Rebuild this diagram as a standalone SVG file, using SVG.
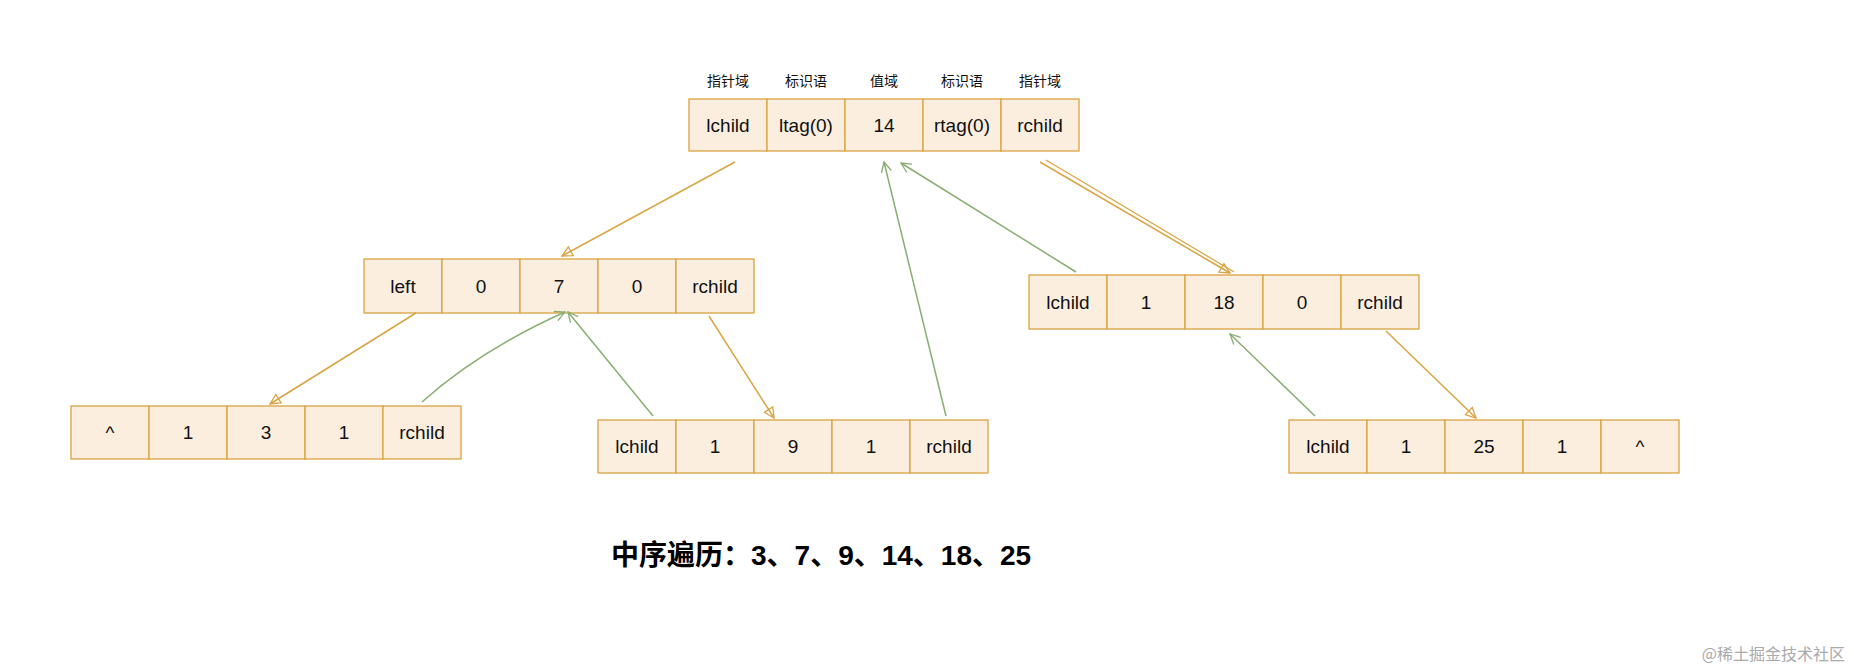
<svg xmlns="http://www.w3.org/2000/svg" width="1854" height="668" viewBox="0 0 1854 668">
<style>
.cell{fill:#fbeedf;stroke:#d9a441;stroke-width:1.3}
.t{font-family:"Liberation Sans",Arial,sans-serif;font-size:19px;fill:#111;text-anchor:middle}
.h{font-family:"Noto Sans CJK SC",sans-serif;font-size:14px;fill:#111;text-anchor:middle}
.o{stroke:#d9a441;stroke-width:1.5;fill:none;marker-end:url(#ao)}
.g{stroke:#88ae72;stroke-width:1.5;fill:none;marker-end:url(#ag)}
</style>
<defs>
<marker id="ao" viewBox="0 0 12 12" refX="11" refY="6" markerWidth="12" markerHeight="12" markerUnits="userSpaceOnUse" orient="auto"><path d="M1,1 L11,6 L1,11 Z" fill="none" stroke="#d9a441" stroke-width="1.3"/></marker>
<marker id="ag" viewBox="0 0 12 12" refX="11" refY="6" markerWidth="12" markerHeight="12" markerUnits="userSpaceOnUse" orient="auto"><path d="M1,1 L11,6 L1,11" fill="none" stroke="#88ae72" stroke-width="1.3"/></marker>
</defs>
<rect width="1854" height="668" fill="#fff"/>
<g id="headers">
<text class="h" x="728" y="86">指针域</text><text class="h" x="806" y="86">标识语</text><text class="h" x="884" y="86">值域</text><text class="h" x="962" y="86">标识语</text><text class="h" x="1040" y="86">指针域</text>
</g>
<g id="n14" transform="translate(689,99)">
<rect class="cell" x="0" y="0" width="78" height="52"/><rect class="cell" x="78" y="0" width="78" height="52"/><rect class="cell" x="156" y="0" width="78" height="52"/><rect class="cell" x="234" y="0" width="78" height="52"/><rect class="cell" x="312" y="0" width="78" height="52"/>
<text class="t" x="39" y="33">lchild</text><text class="t" x="117" y="33">ltag(0)</text><text class="t" x="195" y="33">14</text><text class="t" x="273" y="33">rtag(0)</text><text class="t" x="351" y="33">rchild</text>
</g>
<g id="n7" transform="translate(364,259)">
<rect class="cell" x="0" y="0" width="78" height="54"/><rect class="cell" x="78" y="0" width="78" height="54"/><rect class="cell" x="156" y="0" width="78" height="54"/><rect class="cell" x="234" y="0" width="78" height="54"/><rect class="cell" x="312" y="0" width="78" height="54"/>
<text class="t" x="39" y="34">left</text><text class="t" x="117" y="34">0</text><text class="t" x="195" y="34">7</text><text class="t" x="273" y="34">0</text><text class="t" x="351" y="34">rchild</text>
</g>
<g id="n18" transform="translate(1029,275)">
<rect class="cell" x="0" y="0" width="78" height="54"/><rect class="cell" x="78" y="0" width="78" height="54"/><rect class="cell" x="156" y="0" width="78" height="54"/><rect class="cell" x="234" y="0" width="78" height="54"/><rect class="cell" x="312" y="0" width="78" height="54"/>
<text class="t" x="39" y="34">lchild</text><text class="t" x="117" y="34">1</text><text class="t" x="195" y="34">18</text><text class="t" x="273" y="34">0</text><text class="t" x="351" y="34">rchild</text>
</g>
<g id="n3" transform="translate(71,406)">
<rect class="cell" x="0" y="0" width="78" height="53"/><rect class="cell" x="78" y="0" width="78" height="53"/><rect class="cell" x="156" y="0" width="78" height="53"/><rect class="cell" x="234" y="0" width="78" height="53"/><rect class="cell" x="312" y="0" width="78" height="53"/>
<text class="t" x="39" y="33">^</text><text class="t" x="117" y="33">1</text><text class="t" x="195" y="33">3</text><text class="t" x="273" y="33">1</text><text class="t" x="351" y="33">rchild</text>
</g>
<g id="n9" transform="translate(598,420)">
<rect class="cell" x="0" y="0" width="78" height="53"/><rect class="cell" x="78" y="0" width="78" height="53"/><rect class="cell" x="156" y="0" width="78" height="53"/><rect class="cell" x="234" y="0" width="78" height="53"/><rect class="cell" x="312" y="0" width="78" height="53"/>
<text class="t" x="39" y="33">lchild</text><text class="t" x="117" y="33">1</text><text class="t" x="195" y="33">9</text><text class="t" x="273" y="33">1</text><text class="t" x="351" y="33">rchild</text>
</g>
<g id="n25" transform="translate(1289,420)">
<rect class="cell" x="0" y="0" width="78" height="53"/><rect class="cell" x="78" y="0" width="78" height="53"/><rect class="cell" x="156" y="0" width="78" height="53"/><rect class="cell" x="234" y="0" width="78" height="53"/><rect class="cell" x="312" y="0" width="78" height="53"/>
<text class="t" x="39" y="33">lchild</text><text class="t" x="117" y="33">1</text><text class="t" x="195" y="33">25</text><text class="t" x="273" y="33">1</text><text class="t" x="351" y="33">^</text>
</g>
<g id="connectors">
<path class="o" d="M735,162 L562,256"/>
<path class="o" d="M1040,162 L1230,273"/>
<path d="M1046,160 L1234,272" stroke="#d9a441" stroke-width="1.2" fill="none"/>
<path class="g" d="M1076,272 L901,163"/>
<path class="g" d="M946,416 L884,162"/>
<path class="o" d="M416,313 L270,404"/>
<path class="g" d="M422,402 Q480,350 565,312"/>
<path class="g" d="M653,416 L568,312"/>
<path class="o" d="M709,316 L774,418"/>
<path class="o" d="M1386,331 L1476,418"/>
<path class="g" d="M1315,416 L1230,334"/>
</g>
<text x="611" y="565" font-family="'Liberation Sans','Noto Sans CJK SC',sans-serif" font-size="28" font-weight="bold" fill="#000">中序遍历：3、7、9、14、18、25</text>
<text x="1845" y="660" text-anchor="end" font-family="'Noto Sans CJK SC',sans-serif" font-size="16" fill="#aaa">@稀土掘金技术社区</text>
</svg>
